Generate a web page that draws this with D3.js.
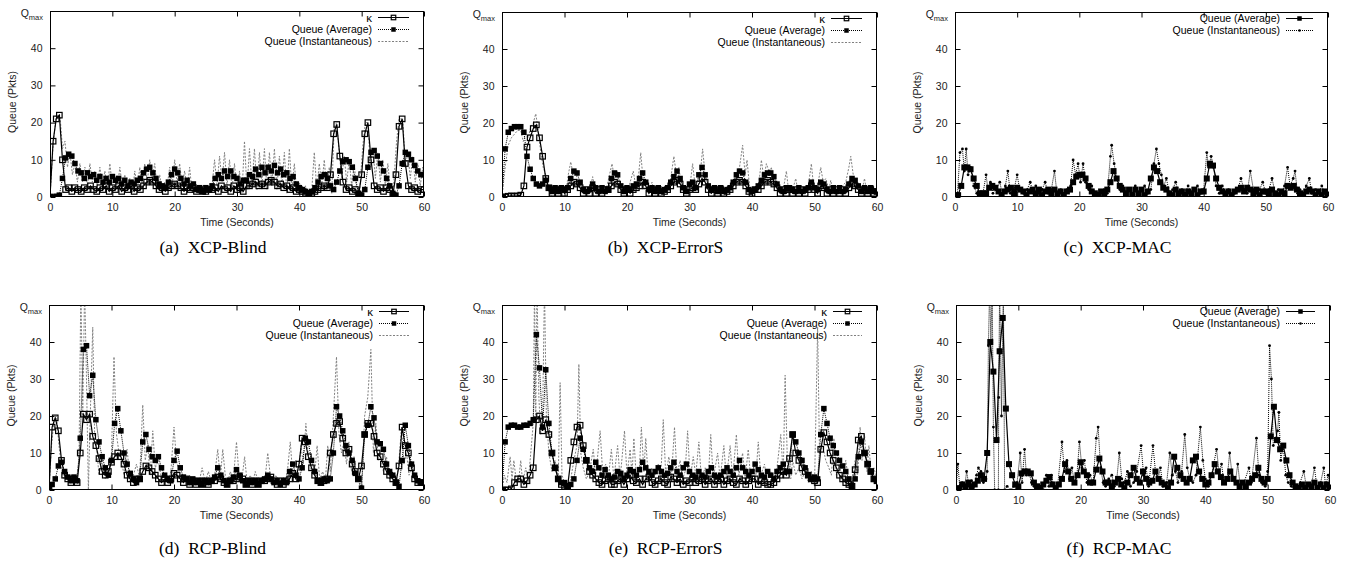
<!DOCTYPE html>
<html>
<head>
<meta charset="utf-8">
<script src="https://cdn.jsdelivr.net/npm/d3@7"></script>
<style>
body { margin: 0; background: #fff; }
</style>
</head>
<body>
<script>
// axis ticks
var tickX = [0, 10, 20, 30, 40, 50, 60];
var tickY = [0, 10, 20, 30, 40];
var step = 0.5; // sampling of kappa / average series (seconds)

// ---- (a) XCP-Blind ----
var kappaA = [0, 15, 21, 22, 10, 2, 2.5, 1.5, 2.5, 2,
  1.5, 2.5, 2, 3, 2, 1.5, 2.5, 2, 3, 1.5,
  2.5, 2, 3, 1.5, 2.5, 2, 3, 1.5, 2.5, 2,
  3, 4, 4.5, 4, 3, 2, 2.5, 1.5, 2.5, 3,
  3.5, 3, 2.5, 1.5, 2.5, 2, 2.5, 1.5, 2, 1.5,
  1.5, 2, 2, 2.5, 1.5, 3, 2, 2.5, 1.5, 3,
  2, 2.5, 1.5, 3, 3, 3.5, 4, 3, 3.5, 3,
  4, 4.5, 4, 3, 3.5, 2.5, 3, 2, 2.5, 1.5,
  2, 1.5, 1, 0.8, 1, 1.5, 2, 2.5, 3, 2.5,
  6, 17, 19.5, 11, 4, 2, 2.5, 1.5, 2, 0.5,
  6, 17, 20, 10, 3, 2, 2.5, 1.5, 2.5, 2,
  0.5, 6, 19, 21, 9, 3, 2, 2.5, 1.5, 2,
  2];
var avgA = [0, 0, 0.2, 0.5, 5, 10.5, 11.5, 11, 9, 7,
  6.5, 5, 6.5, 5.5, 6, 4.5, 5.5, 4, 5, 4,
  5.5, 4.5, 5, 3.5, 4.5, 3, 4, 3.5, 4.5, 5,
  6.5, 7.5, 8, 6.5, 5, 3.5, 3, 2.5, 4, 6,
  7.5, 6.5, 5, 3.5, 4.5, 3, 3.5, 2, 2.5, 1.5,
  2.5, 2, 3, 5, 6, 5, 7, 5.5, 7, 5.5,
  5, 3.5, 4.5, 4.5, 6, 5.5, 7.5, 6, 8, 6.5,
  8, 7, 8.5, 6.5, 7.5, 6, 6.5, 5, 5.5, 3.5,
  2.5, 2, 1.5, 1, 1.5, 2.5, 4, 5.5, 6, 5,
  3, 2, 4, 7, 9.5, 10, 9.5, 8, 5, 1,
  0.5, 2, 8, 12, 12.5, 11, 9, 7, 5, 3,
  1, 0.5, 3, 9, 12, 11.5, 10, 8.5, 7, 6,
  6];
var instA = [[0,0],[0.5,14],[1,22],[1.6,22],[2,13],[2.4,15],[2.8,8],[3.2,12],[3.6,6],[4,9],[4.4,4],[4.8,9],
  [5.2,4],[5.6,8],[6,3],[6.4,9],[6.8,4],[7.2,7],[7.6,3],[8,8],[8.4,3],[8.8,7],[9.2,2],[9.6,9],[10,3],[10.4,6],
  [10.8,2],[11.2,8],[11.6,3],[12,6],[12.4,2],[12.8,5],[13.2,1],[13.6,7],[14,2],[14.4,8],[14.8,3],[15.2,9],
  [15.6,4],[16,10],[16.4,5],[16.8,9],[17.2,2],[17.6,6],[18,1],[18.4,4],[18.8,3],[19.2,8],[19.6,3],[20,10],
  [20.4,4],[20.8,9],[21.2,3],[21.6,7],[22,2],[22.4,8],[22.8,1],[23.2,4],[23.6,1],[24,3],[24.5,1],[25,2],
  [25.5,1],[26,3],[26.4,10],[26.8,3],[27.2,11],[27.6,4],[28,12],[28.4,3],[28.8,10],[29.2,2],[29.6,9],[30,1],
  [30.4,7],[30.8,1],[31.2,15],[31.6,2],[32,13],[32.4,3],[32.8,13],[33.2,2],[33.6,12],[34,3],[34.4,13],[34.8,2],
  [35.2,12],[35.6,3],[36,13],[36.4,2],[36.8,11],[37.2,3],[37.6,12],[38,1],[38.4,13],[38.8,2],[39.2,9],[39.6,1],
  [40,4],[40.5,0],[41,3],[41.5,0],[42,2],[42.4,12],[42.8,2],[43.2,9],[43.6,3],[44,10],[44.4,2],[44.8,8],
  [45.2,1],[45.6,19],[46,20],[46.4,12],[46.8,5],[47.2,11],[47.6,4],[48,10],[48.4,3],[48.8,9],[49.2,2],[49.6,0],
  [50.2,14],[50.6,20],[51,20],[51.4,8],[51.8,13],[52.2,5],[52.6,12],[53,4],[53.4,10],[53.8,3],[54.2,9],[54.6,2],
  [55,0],[55.6,15],[56,21],[56.6,21],[57,8],[57.4,12],[57.8,5],[58.2,11],[58.6,4],[59,9],[59.4,3],[59.8,8],[60,5]];

// ---- (b) XCP-ErrorS ----
var kappaB = [0, 0, 0.2, 0.3, 0.2, 0.3, 0.5, 3, 13.5, 16,
  18.5, 19.5, 16, 11, 5, 2.5, 1, 2, 1, 2,
  1, 2, 3, 4, 3.5, 2.5, 1, 2, 1, 2.5,
  1, 2, 1, 2, 2, 3, 4, 3.5, 2, 1,
  2, 1, 2, 2.5, 3, 4, 3, 1, 2, 1,
  2, 1, 1.5, 2, 3, 4, 4.5, 3.5, 2, 1,
  2, 2.5, 2, 3.5, 5, 4, 2, 1, 2, 1,
  2, 1, 1.5, 2, 3, 4, 4.5, 4, 3, 1.5,
  1, 2, 2, 3, 4, 4.5, 4, 3.5, 2.5, 1,
  2, 1, 2, 1, 2, 1, 2, 1, 2, 3,
  2, 1, 3, 2.5, 1, 2, 1, 2, 1, 2,
  1, 2.5, 3.5, 3, 2, 1, 2, 1, 2, 1,
  1.5];
var avgB = [0, 13, 17.5, 18.5, 19, 19, 19, 17.5, 11, 7.5,
  5, 3.5, 3, 3.5, 4.5, 2.5, 1.5, 2.5, 1.5, 2.5,
  2, 2.5, 5, 7, 6.5, 4, 2, 1.5, 2, 3.5,
  2.5, 1.5, 2.5, 1.5, 2, 5, 6.5, 6, 3, 1.5,
  2.5, 2, 3, 3.5, 5, 6.5, 4, 2, 2.5, 1.5,
  2.5, 1.5, 2, 2.5, 4, 5.5, 7, 5, 2.5, 1.5,
  3.5, 4, 2.5, 6, 8, 6, 3, 2, 2.5, 1.5,
  2.5, 1.5, 2, 2.5, 4, 6, 7, 6.5, 4, 2,
  1.5, 2, 3, 4.5, 6, 6.5, 6.5, 5.5, 3.5, 2,
  1.5, 2.5, 2.5, 2, 1.5, 2.5, 1.5, 2, 2.5, 4,
  2.5, 2, 4, 3.5, 2, 1.5, 2.5, 1.5, 2.5, 1.5,
  2, 3.5, 5, 4.5, 3, 1.5, 2.5, 1.5, 2.5, 1.5,
  1.5];
var instB = [[0,0],[0.5,8],[1,14],[1.5,16],[2,17],[2.5,18],[3,18],[3.4,15],[3.8,17],[4.2,16],[4.6,19],[5,20],
  [5.4,22.5],[5.8,18],[6.2,12],[6.6,8],[7,6],[7.4,2],[7.8,0],[8.2,2],[8.6,1],[9,3],[9.4,1],[9.8,2],[10.2,1],
  [10.6,6],[11,9.5],[11.4,6],[11.8,7],[12.2,3],[12.6,2],[13,1],[13.5,2],[14,1],[14.5,5.5],[14.9,2],[15.3,1],
  [15.8,2],[16.3,1],[16.8,3],[17.2,6],[17.6,9],[18,5],[18.4,7],[18.8,2],[19.2,1],[19.6,3],[20,1],[20.5,4],
  [21,7],[21.4,3],[21.8,5],[22.2,12],[22.6,4],[23,2],[23.5,1],[24,4],[24.4,1],[25,2],[25.5,1],[26,3],[26.5,2],
  [27,5],[27.5,11],[27.9,6],[28.3,8],[28.7,3],[29.2,1],[29.6,3],[30,2],[30.5,9],[30.9,3],[31.3,2],[31.7,6],
  [32.1,13],[32.5,6],[32.9,4],[33.3,1],[34,2],[34.5,1],[35,2],[35.5,1],[36,2],[36.5,1],[37,3],[37.5,6],[38,8],
  [38.5,14],[38.9,6],[39.2,10],[39.6,3],[40,1],[40.5,3],[41,2],[41.5,10],[41.9,5],[42.3,9],[42.7,7],[43.1,8],
  [43.5,4],[44,2],[44.5,1],[45,2],[45.5,7],[45.9,1],[46.5,2],[47,5],[47.4,1],[48,2],[48.5,1],[49,3],[49.5,9],
  [49.9,2],[50.5,3],[51,8],[51.4,4],[51.8,5],[52.3,2],[52.6,4.5],[53,1],[53.5,2],[54,1],[54.5,3],[55,4],
  [55.5,8],[55.8,11],[56.2,6],[56.6,4],[57,2],[57.5,1],[58,5],[58.4,1],[59,2],[59.5,1],[60,2]];

// ---- (c) XCP-MAC ----
var avgC = [0, 0.5, 3, 8, 8, 7.5, 5, 3, 1, 1,
  1, 2.5, 3, 2.5, 1.5, 0.5, 1.5, 2, 2.5, 1,
  2.5, 2, 1.5, 0.5, 1.5, 2, 1, 2, 0.5, 1.5,
  2, 1, 2, 1, 1.5, 0.5, 1.5, 2, 4, 5.5,
  6, 6, 5, 3, 1.5, 1, 0.5, 1.5, 1, 2,
  4, 7, 5, 3, 2, 1, 2, 0.5, 2, 1,
  2, 0.5, 1.5, 5, 8, 7, 4, 2.5, 2, 1,
  0.5, 2, 1, 1.5, 0.5, 1.5, 1, 2, 0.5, 1.5,
  1.5, 5, 9, 8.5, 5, 2.5, 1.5, 1, 1.5, 0.5,
  1.5, 2, 2.5, 1.5, 2.5, 2, 1, 2, 0.5, 1.5,
  1.5, 1, 2, 1, 0.5, 1.5, 1, 3, 2.5, 3,
  2, 1, 0.5, 1.5, 2, 1.5, 0.5, 1.5, 0.5, 1.5,
  1];
var instC = [[0,0],[0.4,1],[0.8,12],[1.2,13],[1.5,7],[1.8,13],[2.1,6],[2.5,8],[3,3],[3.5,1],[4,0],[4.5,1],
  [5,6],[5.3,2],[5.7,4],[6.1,1],[6.6,2],[7.2,4],[7.6,1],[8.1,3],[8.5,7],[8.9,1],[9.5,2],[10,6],[10.4,2],[11,1],
  [11.6,2],[12.1,4],[12.6,1],[13,3],[13.5,1],[14,2],[14.5,4],[15,1],[15.5,2],[16,7],[16.4,1],[17,2],[17.5,1],
  [18,2],[18.6,3],[19,10],[19.4,6],[19.8,9],[20.2,4],[20.6,9],[21,4],[21.5,2],[22,3],[22.5,1],[23,1],[23.5,0],
  [24,2],[24.5,1],[25,11],[25.2,14],[25.6,9],[26,5],[26.5,2],[27,3],[27.5,1],[28,2],[28.5,1],[29,3],[29.5,1],
  [30,2],[30.5,3],[31,1],[31.5,2],[32,9],[32.4,13],[32.8,9],[33.2,6],[33.6,3],[34,5],[34.5,1],[35,2],[35.5,4],
  [36,1],[36.5,2],[37,1],[37.5,3],[38,1],[38.5,2],[39,3],[39.5,1],[40,2],[40.5,12],[40.8,8],[41.2,11],[41.6,8],
  [42,3],[42.5,1],[43,3],[43.5,1],[44,2],[44.5,0],[45,1],[45.5,2],[46,5],[46.5,2],[47,1],[47.5,7],[48,2],
  [48.5,1],[49,2],[49.5,4],[50,1],[50.5,2],[51,5],[51.5,1],[52,2],[52.5,1],[53,3],[53.5,8],[53.9,3],[54.4,5],
  [54.7,7],[55.1,1],[55.5,2],[56,1],[56.5,3],[57,5],[57.4,1],[58,2],[58.5,1],[59,3],[59.5,1],[60,1]];

// ---- (d) RCP-Blind ----
var kappaD = [0, 17, 19.5, 16, 8, 4, 3, 2, 3, 2,
  10, 20.5, 19, 20.5, 14.5, 12, 8.5, 5, 4, 5,
  7.5, 9, 10, 9, 7, 4, 3, 2, 3, 3,
  5, 6.5, 6, 5, 4, 3, 2, 3, 2, 3,
  4.5, 4, 3, 2, 3, 1.5, 2.5, 1.5, 2.5, 1.5,
  2.5, 1.5, 2.5, 2.5, 3.5, 3, 2, 1.5, 2.5, 2.5,
  3, 3.5, 3, 1.5, 2.5, 1.5, 2.5, 1.5, 2.5, 2.5,
  3, 3.5, 2.5, 1.5, 2.5, 1.5, 2.5, 3, 4.5, 3,
  7, 14, 13, 9, 6, 4, 2.5, 2, 2.5, 3,
  10, 15, 18, 18.5, 14, 10, 11, 7, 5, 3,
  6.5, 15, 18, 18, 14.5, 10, 9, 7, 5, 4,
  3, 2, 6.5, 17, 12, 10, 6, 3, 2, 2,
  2];
var avgD = [0, 1.5, 3, 6.5, 7.5, 5, 3.5, 2.5, 3.5, 2.5,
  14, 38, 39, 25.5, 31, 19, 13, 9, 6, 4,
  8, 18, 22, 16, 10, 7, 4.5, 3, 2, 3,
  13, 15, 11, 9, 8, 9, 6, 4, 3, 2.5,
  8, 10.5, 6, 3.5, 3, 2, 3, 2, 2.5, 1.5,
  2.5, 2, 2.5, 3.5, 6, 4, 2.5, 1.5, 2.5, 3.5,
  5.5, 4, 2.5, 1.5, 2.5, 2, 2.5, 1.5, 2.5, 3,
  4, 3, 2, 2.5, 1.5, 2.5, 2, 5, 7, 4,
  3, 6, 14, 13, 8, 5, 2.5, 2, 3, 2.5,
  3, 10, 22.5, 20, 16, 12, 10, 8, 4.5, 3,
  0.5, 15, 17.5, 22.5, 19.5, 13, 12.5, 11, 7, 5,
  4, 2, 1, 8, 17.5, 12, 7, 4, 2.5, 2,
  2];
var instD = [[0,0],[0.4,12],[0.8,19],[1.2,20],[1.6,12],[2,6],[2.4,3],[2.8,5],[3.2,2],[3.6,4],[4,2],[4.4,3],
  [4.8,8],[5.1,55],[5.4,20],[5.7,55],[6,30],[6.3,0],[6.6,20],[7,44],[7.3,15],[7.7,10],[8,4],[8.5,8],[9,3],
  [9.5,4],[10,10],[10.4,36],[10.8,15],[11.2,10],[11.6,8],[12,4],[12.5,11],[13,2],[13.5,4],[14,7],[14.5,3],
  [15,23],[15.4,8],[15.8,12],[16.2,4],[16.6,16],[17,6],[17.5,8],[18,3],[18.5,4],[19,2],[19.5,5],[20,17],
  [20.4,8],[20.8,5],[21.2,2],[21.6,4],[22,2],[22.5,4],[23,1],[23.5,3],[24,2],[24.5,6],[25,2],[25.5,5],[26,2],
  [26.5,4],[27,11],[27.4,3],[27.8,11],[28.2,4],[28.6,2],[29,5],[29.5,3],[30,13],[30.4,4],[30.8,2],[31.3,9],
  [31.7,2],[32.2,4],[32.6,2],[33,5],[33.5,2],[34,3],[34.5,2],[35,10],[35.4,4],[35.8,2],[36.3,4],[36.8,2],
  [37.3,3],[37.8,2],[38.2,6],[38.6,13],[39,4],[39.5,8],[39.9,3],[40.3,12],[40.7,7],[41.1,18],[41.5,9],[42,5],
  [42.5,4],[42.9,12],[43.3,3],[43.8,5],[44.2,2],[44.6,12],[45,5],[45.5,20],[46,36],[46.4,15],[46.8,10],
  [47.2,13],[47.6,7],[48,13],[48.4,5],[48.8,9],[49.2,4],[49.6,2],[50,0],[50.5,20],[51,25],[51.5,38],[51.9,10],
  [52.3,18],[52.7,8],[53.1,9],[53.5,5],[54,9],[54.5,3],[55,4],[55.5,1],[56,8],[56.4,17],[56.8,7],[57.2,10],
  [57.6,4],[58,6],[58.5,2],[59,3],[59.5,2],[60,2]];

// ---- (e) RCP-ErrorS ----
var kappaE = [0, 0, 0, 0.3, 2, 3, 3, 1.5, 2.5, 4,
  6, 19, 20, 16, 19, 15, 10, 6, 3, 1.5,
  1, 1, 8, 13, 17, 17.5, 12, 8, 5, 4,
  3, 2, 1.5, 2.5, 3, 1.5, 1.5, 2.5, 3, 1.5,
  3, 4, 2.5, 2, 3, 1.5, 3, 3.5, 2, 1.5,
  2.5, 3, 2, 1.5, 3.5, 3, 2, 3, 1.5, 2.5,
  2, 3, 2, 2.5, 3, 1.5, 2.5, 3, 1.5, 2.5,
  3, 1.5, 2.5, 3, 2, 1.5, 3, 2.5, 1.5, 2.5,
  3, 3, 1.5, 2.5, 2, 1.5, 1.5, 2, 3, 4,
  5, 4, 8.5, 15, 10, 8, 6, 5, 4, 3,
  2.5, 2, 11, 15.5, 13, 10, 8, 6, 4, 3,
  2, 1.5, 1, 5.5, 13.5, 14.5, 10, 7, 5, 3,
  2.5];
var avgE = [0, 13, 17, 17.5, 17.5, 17, 17, 17.5, 17.5, 18,
  19, 42, 33, 17, 32.5, 18, 10, 6, 3, 2,
  2, 1, 1.5, 3, 8, 14, 11, 8, 6, 5,
  7.5, 6, 4, 5.5, 4, 3, 3.5, 5, 4.5, 3,
  4, 5.5, 5, 4, 5.5, 7.5, 6, 5, 4, 5,
  6, 5, 4, 4.5, 6, 7.5, 5, 4, 6, 7,
  5, 4, 3.5, 5, 4, 3.5, 5, 6, 4, 3.5,
  4, 5, 6, 5, 4, 6, 8, 6, 5, 4,
  5, 7, 5.5, 4, 3.5, 5, 4, 3, 5, 6,
  7, 5, 5, 15, 13, 10, 8, 6, 4, 3,
  3.5, 3, 15, 22, 18, 14, 12, 10, 8, 6.5,
  5, 3, 1, 3, 9, 13, 10, 7, 5, 3,
  2.5];
var instE = [[0,0],[0.4,4],[0.8,2],[1.3,9],[1.6,3],[1.9,8],[2.3,2],[2.7,3],[3,8],[3.3,2],[3.8,6],[4.2,2],
  [4.6,10],[5,18],[5.2,55],[5.4,20],[5.6,55],[5.9,25],[6.2,15],[6.5,20],[6.8,55],[7.1,20],[7.5,10],[8,5],
  [8.5,8],[9,3],[9.3,29],[9.6,4],[10,2],[10.5,0],[11,3],[11.5,8],[12,12],[12.3,34],[12.6,10],[13,6],[13.5,3],
  [14,5],[14.6,11],[15,4],[15.7,16],[16.1,5],[16.6,7],[17,3],[17.5,11],[17.9,3],[18.5,12],[18.9,3],[19.6,16],
  [20,4],[20.5,11],[20.8,4],[21.1,14],[21.5,3],[22,6],[22.3,17],[22.7,5],[23,14],[23.4,3],[24,6],[24.5,4],
  [25,7],[25.4,3],[25.8,19],[26.2,4],[26.7,9],[27.1,3],[27.6,17],[28,4],[28.5,8],[28.9,3],[29.3,5],[29.7,16],
  [30.1,3],[30.6,9],[31,4],[31.5,13],[31.9,3],[32.5,6],[33,3],[33.4,15],[33.8,3],[34.5,10],[34.9,3],[35.5,12],
  [35.9,3],[36.5,12],[36.9,3],[37.5,15],[37.9,4],[38.5,10],[38.9,3],[39.4,11],[39.8,3],[40.3,6],[40.6,3],
  [41,13],[41.4,4],[42,7],[42.4,2],[43,5],[43.5,2],[44,6],[44.6,15],[45,4],[45.3,31],[45.7,5],[46.2,3],
  [46.5,8],[47,4],[47.5,6],[48,3],[48.5,5],[49,2],[49.5,5],[50,1],[50.5,44],[50.8,10],[51.3,12],[51.8,8],
  [52.3,6],[52.7,4],[53.1,14],[53.5,4],[54,7],[54.5,2],[55,8],[55.5,2],[56,3],[56.5,8],[56.9,4],[57.3,17],
  [57.6,8],[58,15],[58.4,5],[58.7,12],[59.1,4],[59.5,6],[60,3]];

// ---- (f) RCP-MAC ----
var avgF = [0, 0.5, 1.5, 1, 2, 1, 1.5, 2.5, 4, 3,
  10, 40, 32, 13.5, 37.5, 46.5, 22, 7, 4, 1.5,
  1, 4.5, 5, 5, 4.5, 2, 1, 0.5, 1.5, 2.5,
  3.5, 1.5, 0.5, 1.5, 3, 7, 5, 3, 2, 4,
  7.5, 5, 4, 2, 2, 5.5, 8.5, 5, 2, 2,
  1, 2, 3, 1.5, 0.5, 2, 4, 6, 3, 2,
  5, 3, 2, 2.5, 5, 3, 2, 1.5, 0.5, 2,
  9, 6, 4, 3, 2, 3, 8, 9, 5, 3,
  1.5, 2, 4, 7, 5, 3.5, 2, 3, 5, 3,
  2, 1, 2, 1, 2, 3, 4, 6, 3, 2,
  3, 14.5, 22.5, 13.5, 11, 12, 8, 4, 2, 1,
  0.5, 1.5, 0.5, 1.5, 1, 2, 0.5, 1.5, 0.5, 1.5,
  1];
var instF = [[0,0],[0.3,7],[0.6,1],[1,2],[1.4,1],[1.7,5],[2.1,1],[2.5,2.5],[2.9,1],[3.3,4],[3.6,6],[4,5],
  [4.4,2],[4.8,3],[5,5],[5.2,39],[5.4,55],[5.6,40],[5.8,55],[6,17],[6.2,0],[6.8,0],[6.85,25],[7,55],[7.3,20],
  [7.6,55],[7.8,0],[8.2,1],[8.8,0],[9.3,1],[9.8,2],[10.3,10],[10.6,2],[11,11],[11.3,4],[11.7,5],[12.1,2],
  [12.5,1],[13,0],[13.5,1],[14,0],[14.5,4],[14.9,1],[15.3,4],[15.7,1],[16.3,1],[17,13],[17.4,5],[17.8,8],
  [18.2,3],[18.6,6],[19,2],[19.4,4],[19.8,13],[20.2,6],[20.6,8],[21,2],[21.5,4],[22,2],[22.5,14],[22.8,17],
  [23.2,6],[23.6,2],[24,1],[24.5,3],[25,4],[25.4,1],[25.8,3],[26.2,10],[26.6,3],[27,2],[27.5,5],[28,1],
  [28.5,2],[29,5],[29.7,12],[30.1,4],[30.5,6],[30.9,1],[31.6,12],[32,5],[32.4,3],[32.8,6],[33.2,1],[33.8,2],
  [34.3,10],[34.7,4],[35.2,5],[35.6,2],[36.2,5],[36.7,15],[37.1,6],[37.5,3],[38,2],[38.5,4],[39.2,17],
  [39.6,8],[40,3],[40.5,1],[41,4],[41.8,11],[42.2,5],[42.6,7],[43,2],[43.5,3],[43.9,10],[44.3,4],[44.8,2],
  [45.2,7],[45.6,1],[46.2,2],[47,6],[47.4,2],[48.2,14],[48.6,4],[49,2],[49.6,1],[50,5],[50.3,39],[50.6,30],
  [50.9,12],[51.3,14],[51.6,16],[51.8,21],[52.1,8],[52.5,12],[52.9,4],[53.3,2],[53.8,1],[54.3,0],[55,1],
  [55.8,5],[56.2,1],[57,1],[57.5,6],[57.9,1],[58.5,2],[59,6],[59.3,1],[59.7,4],[60,1]];

// panel layout: [left, right, top, bottom] in pixels
var panels = [
  {id: "a", caption: "(a)  XCP-Blind",  box: [50, 424, 11, 197],   capY: 253, leg: 52, kappa: kappaA, avg: avgA, inst: instA},
  {id: "b", caption: "(b)  XCP-ErrorS", box: [502, 877, 12, 197],  capY: 253, leg: 52, kappa: kappaB, avg: avgB, inst: instB},
  {id: "c", caption: "(c)  XCP-MAC",    box: [955, 1328, 12, 197], capY: 253, leg: 48, kappa: null,   avg: avgC, inst: instC},
  {id: "d", caption: "(d)  RCP-Blind",  box: [49, 424, 305, 490],  capY: 554, leg: 51, kappa: kappaD, avg: avgD, inst: instD},
  {id: "e", caption: "(e)  RCP-ErrorS", box: [502, 877, 305, 490], capY: 554, leg: 50, kappa: kappaE, avg: avgE, inst: instE},
  {id: "f", caption: "(f)  RCP-MAC",    box: [956, 1330, 305, 490], capY: 554, leg: 50, kappa: null,   avg: avgF, inst: instF}
];

var sans = "'Liberation Sans', Arial, Helvetica, sans-serif";
var serif = "'Liberation Serif', 'Times New Roman', serif";
var mark = 5.5; // marker size

var svg = d3.select("body").append("svg")
    .attr("width", 1345)
    .attr("height", 563)
    .style("display", "block")
    .style("background", "#fff");

function grid(arr) {
  return arr.map(function(v, i) { return [i * step, v]; });
}

function squares(g, pts, x, y, filled, size) {
  g.selectAll(null).data(pts).enter().append("rect")
      .attr("x", function(d) { return x(d[0]) - size / 2; })
      .attr("y", function(d) { return y(d[1]) - size / 2; })
      .attr("width", size)
      .attr("height", size)
      .attr("fill", filled ? "#000" : "none")
      .attr("stroke", "#000")
      .attr("stroke-width", filled ? 0 : 1.2);
}

panels.forEach(function(p) {
  var L = p.box[0], R = p.box[1], T = p.box[2], B = p.box[3];
  var mac = !p.kappa;

  var x = d3.scaleLinear().domain([0, 60]).range([L, R]);
  var y = d3.scaleLinear().domain([0, 50]).range([B, T]);

  var g = svg.append("g");

  g.append("clipPath").attr("id", "clip-" + p.id)
    .append("rect").attr("x", L).attr("y", T).attr("width", R - L).attr("height", B - T);

  var plot = g.append("g").attr("clip-path", "url(#clip-" + p.id + ")");

  var line = d3.line()
      .x(function(d) { return x(d[0]); })
      .y(function(d) { return y(d[1]); });

  var avgPts = grid(p.avg);

  if (!mac) {
    // instantaneous queue: light dashed line
    plot.append("path")
        .attr("d", line(p.inst))
        .attr("fill", "none")
        .attr("stroke", "#808080")
        .attr("stroke-width", 1)
        .attr("stroke-dasharray", "2,1.5");

    // kappa: solid line, open squares
    var kPts = grid(p.kappa);
    plot.append("path")
        .attr("d", line(kPts))
        .attr("fill", "none")
        .attr("stroke", "#000")
        .attr("stroke-width", 1.2);
    squares(plot, kPts, x, y, false, mark);

    // average queue: dotted line, filled squares
    plot.append("path")
        .attr("d", line(avgPts))
        .attr("fill", "none")
        .attr("stroke", "#000")
        .attr("stroke-width", 1)
        .attr("stroke-dasharray", "1,1");
    squares(plot, avgPts, x, y, true, mark);
  } else {
    // instantaneous queue: dotted line with small dots
    plot.append("path")
        .attr("d", line(p.inst))
        .attr("fill", "none")
        .attr("stroke", "#000")
        .attr("stroke-width", 1)
        .attr("stroke-dasharray", "1,1");
    plot.selectAll(null).data(p.inst).enter().append("circle")
        .attr("cx", function(d) { return x(d[0]); })
        .attr("cy", function(d) { return y(d[1]); })
        .attr("r", 1.4)
        .attr("fill", "#000");

    // average queue: solid line, filled squares
    plot.append("path")
        .attr("d", line(avgPts))
        .attr("fill", "none")
        .attr("stroke", "#000")
        .attr("stroke-width", 1.2);
    squares(plot, avgPts, x, y, true, 6);
  }

  // frame
  g.append("rect")
      .attr("x", L + 0.5).attr("y", T + 0.5)
      .attr("width", R - L - 1).attr("height", B - T - 1)
      .attr("fill", "none")
      .attr("stroke", "#000")
      .attr("stroke-width", 1);

  // axes, ticks drawn inwards and mirrored
  function clean(sel) {
    sel.select(".domain").remove();
    sel.selectAll("line").attr("stroke", "#000");
    sel.selectAll("text")
        .attr("fill", "#222")
        .style("font-family", sans)
        .style("font-size", "10.5px");
  }
  g.append("g").attr("transform", "translate(0," + (B - 0.5) + ")")
      .call(d3.axisBottom(x).tickValues(tickX).tickSize(-5).tickPadding(7)).call(clean);
  g.append("g").attr("transform", "translate(0," + (T + 0.5) + ")")
      .call(d3.axisTop(x).tickValues(tickX).tickSize(-5).tickFormat("")).call(clean);
  g.append("g").attr("transform", "translate(" + (L + 0.5) + ",0)")
      .call(d3.axisLeft(y).tickValues(tickY).tickSize(-5).tickPadding(8)).call(clean);
  g.append("g").attr("transform", "translate(" + (R - 0.5) + ",0)")
      .call(d3.axisRight(y).tickValues(tickY).tickSize(-5).tickFormat("")).call(clean);

  // Q_max label at top of y axis
  var q = g.append("text")
      .attr("x", L - 7)
      .attr("y", T + 6)
      .attr("text-anchor", "end")
      .attr("fill", "#222")
      .style("font-family", sans)
      .style("font-size", "10.5px");
  q.append("tspan").text("Q");
  q.append("tspan").attr("dy", 3).style("font-size", "7.5px").text("max");

  // axis titles
  g.append("text")
      .attr("transform", "translate(" + (L - 34) + "," + ((T + B) / 2 - 2) + ") rotate(-90)")
      .attr("text-anchor", "middle")
      .attr("fill", "#222")
      .style("font-family", sans)
      .style("font-size", "10.5px")
      .text("Queue (Pkts)");

  g.append("text")
      .attr("x", (L + R) / 2)
      .attr("y", B + 29)
      .attr("text-anchor", "middle")
      .attr("fill", "#222")
      .style("font-family", sans)
      .style("font-size", "10.5px")
      .text("Time (Seconds)");

  // caption
  g.append("text")
      .attr("x", (L + R) / 2 - 24)
      .attr("y", p.capY)
      .attr("text-anchor", "middle")
      .attr("fill", "#000")
      .style("font-family", serif)
      .style("font-size", "17.5px")
      .style("white-space", "pre")
      .text(p.caption);

  // legend
  var rows = mac
    ? [{label: "Queue (Average)", kind: "macAvg"}, {label: "Queue (Instantaneous)", kind: "macInst"}]
    : [{label: "\u03ba", kind: "kappa"}, {label: "Queue (Average)", kind: "avg"}, {label: "Queue (Instantaneous)", kind: "inst"}];
  var lx0 = R - p.leg + 6, lx1 = R - 15;
  rows.forEach(function(r, i) {
    var ly = T + 6.5 + i * 12;
    g.append("text")
        .attr("x", R - p.leg)
        .attr("y", ly)
        .attr("dy", "0.35em")
        .attr("text-anchor", "end")
        .attr("fill", "#000")
        .style("font-family", sans)
        .style("font-size", r.kind === "kappa" ? "11.5px" : "10.5px")
        .text(r.label);
    var ln = g.append("line")
        .attr("x1", lx0).attr("x2", lx1)
        .attr("y1", ly).attr("y2", ly)
        .attr("stroke-width", 1);
    var cx = (lx0 + lx1) / 2;
    var fx = function() { return cx; }, fy = function() { return ly; };
    if (r.kind === "kappa") {
      ln.attr("stroke", "#000");
      squares(g, [[0, 0]], fx, fy, false, 4.5);
    } else if (r.kind === "avg") {
      ln.attr("stroke", "#000").attr("stroke-dasharray", "1,1");
      squares(g, [[0, 0]], fx, fy, true, 4.5);
    } else if (r.kind === "inst") {
      ln.attr("stroke", "#808080").attr("stroke-dasharray", "2,1.5");
    } else if (r.kind === "macAvg") {
      ln.attr("stroke", "#000");
      squares(g, [[0, 0]], fx, fy, true, 4.5);
    } else {
      ln.attr("stroke", "#000").attr("stroke-dasharray", "1,1");
      g.append("circle").attr("cx", cx).attr("cy", ly).attr("r", 1.3).attr("fill", "#000");
    }
  });
});
</script>
</body>
</html>
